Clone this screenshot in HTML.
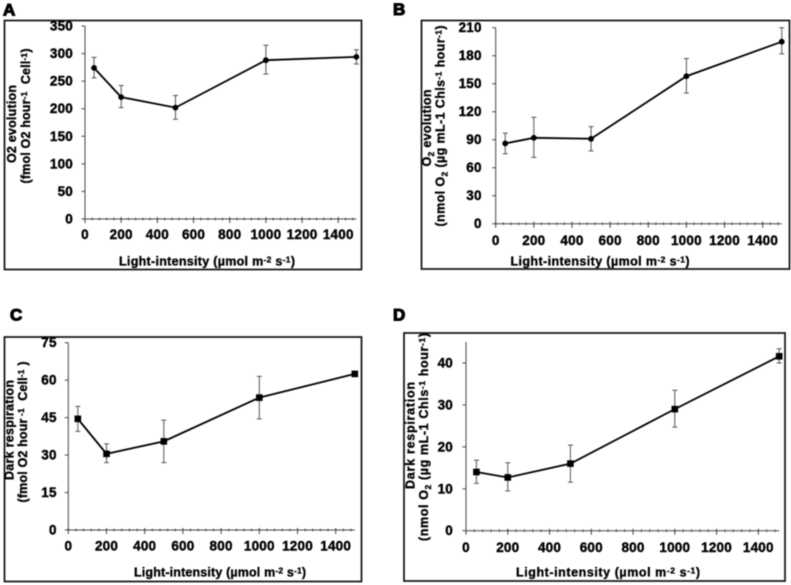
<!DOCTYPE html>
<html lang="en">
<head>
<meta charset="utf-8">
<title>Light-intensity response panels</title>
<style>
html,body{margin:0;padding:0;background:#fff;}
body{width:791px;height:585px;overflow:hidden;}
svg{display:block;filter:blur(0.4px);}
text{font-family:"Liberation Sans",sans-serif;font-weight:bold;fill:#000;}
.tick{font-size:13.5px;letter-spacing:0.2px;stroke:#000;stroke-width:0.4px;}
.label{font-size:12.5px;stroke:#000;stroke-width:0.35px;}
.letter{font-size:17px;stroke:#000;stroke-width:1.1px;}
.frame{fill:#fff;stroke:#111;stroke-width:1.7;}
</style>
</head>
<body>
<svg id="figure" width="791" height="585" viewBox="0 0 791 585" xmlns="http://www.w3.org/2000/svg">
  <rect class="frame" x="4.5" y="20.5" width="357" height="249"/>
  <rect class="frame" x="421.5" y="20.5" width="368" height="248.5"/>
  <rect class="frame" x="4.5" y="337" width="357" height="244.5"/>
  <rect class="frame" x="404" y="333" width="381" height="248"/>

  <text class="letter" x="3" y="15.5">A</text>
  <text class="letter" x="393" y="15">B</text>
  <text class="letter" x="10" y="320.5">C</text>
  <text class="letter" x="393" y="320.5">D</text>

  <text class="label" x="119" y="265.5" textLength="176">Light-intensity (µmol m<tspan dy="-3" font-size="8.5">-2</tspan><tspan dy="3"> s</tspan><tspan dy="-3" font-size="8.5">-1</tspan><tspan dy="3">)</tspan></text>
  <text class="label" x="510.5" y="265.5" textLength="179">Light-intensity (µmol m<tspan dy="-3" font-size="8.5">-2</tspan><tspan dy="3"> s</tspan><tspan dy="-3" font-size="8.5">-1</tspan><tspan dy="3">)</tspan></text>
  <text class="label" x="134" y="576.5" textLength="172">Light-intensity (µmol m<tspan dy="-3" font-size="8.5">-2</tspan><tspan dy="3"> s</tspan><tspan dy="-3" font-size="8.5">-1</tspan><tspan dy="3">)</tspan></text>
  <text class="label" x="516" y="576.5" textLength="184">Light-intensity (µmol m<tspan dy="-3" font-size="8.5">-2</tspan><tspan dy="3"> s</tspan><tspan dy="-3" font-size="8.5">-1</tspan><tspan dy="3">)</tspan></text>

  <text class="label" text-anchor="middle" transform="translate(16,124) rotate(-90)" textLength="78">O2 evolution</text>
  <text class="label" text-anchor="middle" transform="translate(30,116) rotate(-90)" textLength="135">(fmol O2 hour<tspan dy="-3" font-size="8.5">-1</tspan><tspan dy="3">&#160;&#160;Cell</tspan><tspan dy="-3" font-size="8.5">-1</tspan><tspan dy="3">)</tspan></text>

  <text class="label" text-anchor="middle" transform="translate(431,128) rotate(-90)" textLength="77">O<tspan dy="3" font-size="8.5">2</tspan><tspan dy="-3"> evolution</tspan></text>
  <text class="label" text-anchor="middle" transform="translate(444.5,126) rotate(-90)" textLength="201">(nmol O<tspan dy="3" font-size="8.5">2</tspan><tspan dy="-3"> (µg mL-1 Chls</tspan><tspan dy="-3" font-size="8.5">-1</tspan><tspan dy="3"> hour</tspan><tspan dy="-3" font-size="8.5">-1</tspan><tspan dy="3">)</tspan></text>

  <text class="label" text-anchor="middle" transform="translate(13.5,430) rotate(-90)" textLength="100">Dark respiration</text>
  <text class="label" text-anchor="middle" transform="translate(27,432) rotate(-90)" textLength="141">(fmol O2 hour<tspan dy="-3" font-size="8.5">&#160;-1</tspan><tspan dy="3">&#160;&#160;Cell</tspan><tspan dy="-3" font-size="8.5">-1</tspan><tspan dy="3">&#160;)</tspan></text>

  <text class="label" text-anchor="middle" transform="translate(414.5,435.5) rotate(-90)" textLength="107">Dark respiration</text>
  <text class="label" text-anchor="middle" transform="translate(428,437) rotate(-90)" textLength="208">(nmol O<tspan dy="3" font-size="8.5">2</tspan><tspan dy="-3"> (µg mL-1 Chls</tspan><tspan dy="-3" font-size="8.5">-1</tspan><tspan dy="3"> hour</tspan><tspan dy="-3" font-size="8.5">-1</tspan><tspan dy="3">)</tspan></text>
</svg>
<script>
var lightLevels = [50, 200, 500, 1000, 1500];
var xTickLabels = [0, 200, 400, 600, 800, 1000, 1200, 1400];

var aValues = [274, 221, 202, 288, 294];
var aUpper = [293, 242, 224, 315, 307];
var aLower = [256, 202, 181, 263, 281];
var aYTicks = [0, 50, 100, 150, 200, 250, 300, 350];

var bValues = [86, 92, 91, 158, 195];
var bUpper = [97, 114, 104, 177, 210];
var bLower = [75, 71, 78, 140, 182];
var bYTicks = [0, 30, 60, 90, 120, 150, 180, 210];

var cValues = [44.5, 30.5, 35.5, 53, 62.5];
var cUpper = [49.5, 34.5, 44, 61.5, 63];
var cLower = [39.5, 27, 27, 44.5, 62];
var cYTicks = [0, 15, 30, 45, 60, 75];

var dValues = [14, 12.7, 16, 29, 41.6];
var dUpper = [16.8, 16.2, 20.4, 33.5, 43.4];
var dLower = [11.3, 9.5, 11.6, 24.7, 40];
var dYTicks = [0, 10, 20, 30, 40];

var svg = document.getElementById('figure');
var NS = 'http://www.w3.org/2000/svg';

function make(tag, attrs) {
  var el = document.createElementNS(NS, tag);
  for (var k in attrs) el.setAttribute(k, attrs[k]);
  svg.appendChild(el);
  return el;
}

function drawPanel(p, values, upper, lower, yTicks) {
  var sx = function (v) { return p.x0 + v * p.xScale; };
  var sy = function (v) { return p.y0 - v * p.yScale; };
  var axisColor = '#444';
  var el;

  el = make('line', { x1: sx(0), x2: sx(1500), y1: sy(0), y2: sy(0), stroke: axisColor, 'stroke-width': 1 });
  
  

  el = make('line', { x1: sx(0), x2: sx(0), y1: sy(0), y2: sy(p.yMax), stroke: axisColor, 'stroke-width': 1 });
  
  

  for (var m = 0; m <= 1500; m += 40) {
    el = make('line', { x1: sx(m), x2: sx(m), y1: sy(0) - 1.5, y2: sy(0) + 1.5, stroke: axisColor, 'stroke-width': 0.8 });
    
    
  }

  xTickLabels.forEach(function (t) {
    var tick = make('line', { x1: sx(t), x2: sx(t), y1: sy(0) - 2, y2: sy(0) + 4, stroke: axisColor, 'stroke-width': 1 });
    
    
    var label = make('text', { x: sx(t), y: sy(0) + p.xLabelGap, 'text-anchor': 'middle', 'class': 'tick' });
    label.textContent = t;
    
    
  });

  yTicks.forEach(function (t) {
    var tick = make('line', { x1: sx(0) - 3.5, x2: sx(0), y1: sy(t), y2: sy(t), stroke: axisColor, 'stroke-width': 1 });
    
    
    var label = make('text', { x: sx(0) - p.yLabelGap, y: sy(t) + 4.5, 'text-anchor': 'end', 'class': 'tick' });
    label.textContent = t;
    
    
  });

  lightLevels.forEach(function (x, i) {
    var bar = make('path', {
      d: 'M' + (sx(x) - 2.5) + ' ' + sy(upper[i]) + 'H' + (sx(x) + 2.5) +
         'M' + sx(x) + ' ' + sy(upper[i]) + 'V' + sy(lower[i]) +
         'M' + (sx(x) - 2.5) + ' ' + sy(lower[i]) + 'H' + (sx(x) + 2.5),
      fill: 'none', stroke: '#555', 'stroke-width': 1
    });
    
    
  });

  var pts = lightLevels.map(function (x, i) { return sx(x) + ',' + sy(values[i]); }).join(' ');
  el = make('polyline', { points: pts, fill: 'none', stroke: '#000', 'stroke-width': 1.8 });
  
  

  lightLevels.forEach(function (x, i) {
    var mark;
    if (p.square) {
      mark = make('rect', { x: sx(x) - 3.3, y: sy(values[i]) - 3.3, width: 6.6, height: 6.6, fill: '#000' });
    } else {
      mark = make('circle', { cx: sx(x), cy: sy(values[i]), r: 2.9, fill: '#000' });
    }
    
    
  });
}

drawPanel({ x0: 85, y0: 219, xScale: 0.1809, yScale: 193 / 350, yMax: 350, xLabelGap: 20, yLabelGap: 12, square: false }, aValues, aUpper, aLower, aYTicks);
drawPanel({ x0: 495.7, y0: 223.7, xScale: 0.1907, yScale: 196 / 210, yMax: 210, xLabelGap: 21.5, yLabelGap: 14, square: false }, bValues, bUpper, bLower, bYTicks);
drawPanel({ x0: 68.3, y0: 530, xScale: 0.191, yScale: 187.3 / 75, yMax: 75, xLabelGap: 20.5, yLabelGap: 11.6, square: true }, cValues, cUpper, cLower, cYTicks);
drawPanel({ x0: 466, y0: 530.7, xScale: 0.2088, yScale: 167.7 / 40, yMax: 45, xLabelGap: 21.5, yLabelGap: 13, square: true }, dValues, dUpper, dLower, dYTicks);
</script>
</body>
</html>
